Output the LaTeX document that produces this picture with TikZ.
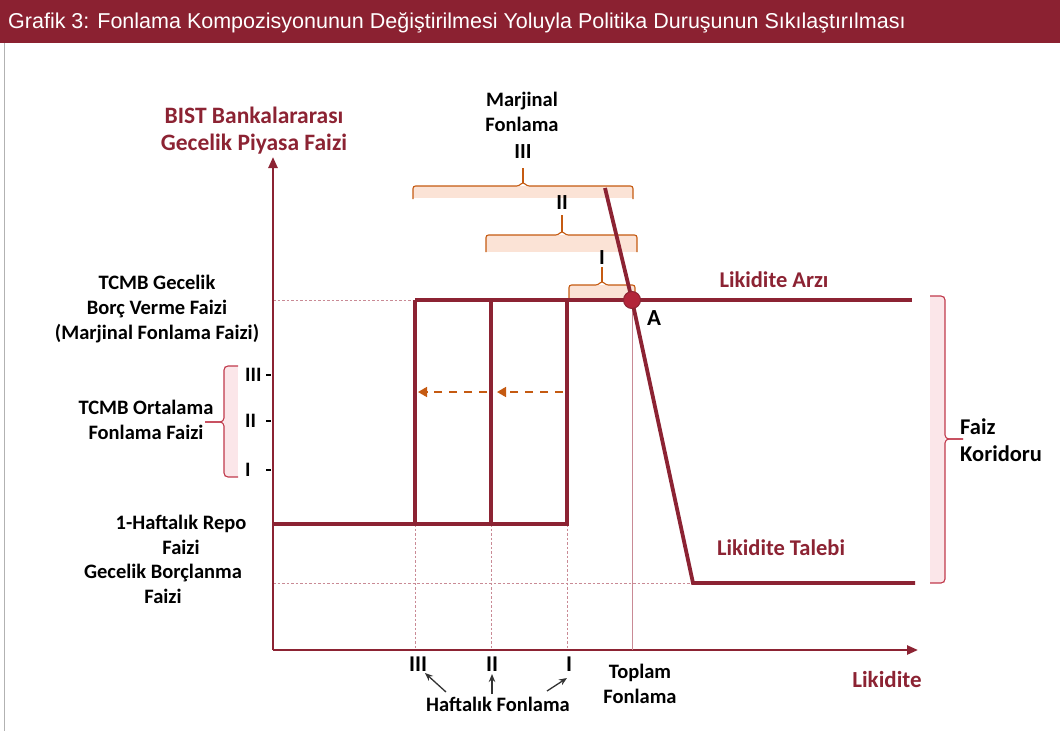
\documentclass[tikz,border=0pt]{standalone}
\usepackage{fontspec}
\setmainfont{Carlito}
\newfontfamily\titlefont{Liberation Sans}
\usetikzlibrary{arrows.meta}
\definecolor{dred}{HTML}{8B2131}
\definecolor{lred}{HTML}{8C2333}
\definecolor{ptred}{HTML}{B3253A}
\definecolor{orng}{HTML}{C55A11}
\definecolor{peach}{HTML}{FBE3D6}
\definecolor{pinkf}{HTML}{FBE6E9}
\definecolor{bracered}{HTML}{C0394B}
\definecolor{guide}{HTML}{C98A95}
\tikzset{
  lbl/.style={font=\bfseries\fontsize{20.5}{25}\selectfont, align=center, text=black, inner sep=0pt},
  biglbl/.style={lbl, font=\bfseries\fontsize{22.5}{27}\selectfont},
  rlbl/.style={biglbl, text=lred},
  axisline/.style={lred, line width=2.4pt, -{Triangle[length=11pt,width=9pt]}},
  curve/.style={lred, line width=3.8pt},
  guideline/.style={guide, line width=0.8pt, dash pattern=on 2.5pt off 2pt},
  obrace/.style={orng, line width=1.1pt, rounded corners=2.5pt},
  pbrace/.style={bracered, line width=1.1pt, rounded corners=4pt},
  shiftarrow/.style={orng, line width=1.6pt, dash pattern=on 8pt off 7pt, -{Triangle[length=9pt,width=10pt]}},
  blackarrow/.style={black!80, line width=1.3pt, -{Stealth[length=8pt,width=6.5pt]}}
}
\begin{document}
\begin{tikzpicture}[x=1pt,y=-1pt]
\useasboundingbox (0,0) rectangle (1060,731);
% title bar
\fill[dred] (0,0) rectangle (1060,43);
\node[anchor=west, text=white, font=\titlefont\fontsize{21.5}{24}\selectfont, inner sep=0pt] (title) at (8,23) {Grafik 3: Fonlama Kompozisyonunun Değiştirilmesi Yoluyla Politika Duruşunun Sıkılaştırılması};
\draw[gray!60, line width=0.8pt] (4,43) -- (4,731);

% coordinates
\coordinate (O) at (273,650);
\coordinate (ytip) at (273,157);
\coordinate (xtip) at (918,650);
\coordinate (s1) at (273,524);
\coordinate (s2) at (567,524);
\coordinate (v1t) at (415,300);
\coordinate (v1b) at (415,524);
\coordinate (v2t) at (491,300);
\coordinate (v2b) at (491,524);
\coordinate (v3t) at (567,300);
\coordinate (supend) at (912,300);
\coordinate (dtop) at (605,188);
\coordinate (dbend) at (693,583);
\coordinate (dend) at (915,583);

% guides
\draw[guideline] (273,300) -- (v1t);
\draw[guideline] (273,583) -- (dbend);
\draw[guideline] (v1b) -- (415,650);
\draw[guideline] (v2b) -- (491,650);
\draw[guideline] (s2) -- (567,650);

% top braces (fills first)
\fill[peach] (413,186) rectangle (633,198);
\fill[peach] (486,235) rectangle (637,252);
\fill[peach] (569,285) rectangle (635,300);
\draw[obrace] (413,199) -- (413,186) -- (519,186) -- (523,182) -- (527,186) -- (633,186) -- (633,199);
\draw[orng, line width=1.1pt] (523,183) -- (523,168);
\draw[obrace] (486,252) -- (486,235) -- (558,235) -- (562,231) -- (566,235) -- (637,235) -- (637,252);
\draw[orng, line width=1.1pt] (562,232) -- (562,215);
\draw[obrace] (569,300) -- (569,285) -- (598,285) -- (602,281) -- (606,285) -- (635,285) -- (635,300);
\draw[orng, line width=1.1pt] (602,282) -- (602,267);

% side braces
\fill[pinkf] (224,366) rectangle (238,477);
\draw[pbrace] (238,366) -- (224,366) -- (224,422) -- (205,422);
\draw[pbrace] (205,422) -- (224,422) -- (224,477) -- (238,477);
\fill[pinkf] (930,296) rectangle (945,583);
\draw[pbrace] (930,296) -- (945,296) -- (945,439) -- (963,439);
\draw[pbrace] (963,439) -- (945,439) -- (945,583) -- (930,583);

% axes
\draw[axisline] (O) -- (ytip);
\draw[axisline] (O) -- (xtip);
% y ticks
\draw[black, line width=1.3pt] (266,375) -- (271,375);
\draw[black, line width=1.3pt] (266,421) -- (271,421);
\draw[black, line width=1.3pt] (266,470) -- (271,470);

% supply curve
\draw[curve, line join=miter] (s1) -- (s2) -- (v3t);
\draw[curve] (v1b) -- (v1t);
\draw[curve] (v2b) -- (v2t);
\draw[curve] (v1t) -- (supend);

% demand curve
\coordinate (A) at (632,300);
\draw[guide, line width=0.9pt] (A) -- (632,650);
\draw[curve, line join=miter] (dtop) -- (A) -- (dbend) -- (dend);
\fill[ptred, draw=lred, line width=1pt] (A) circle (8.5);

% shift arrows
\coordinate (sa1s) at (563,392);
\coordinate (sa1e) at (497,392);
\coordinate (sa2s) at (487,392);
\coordinate (sa2e) at (418,392);
\draw[shiftarrow] (sa1s) -- (sa1e);
\draw[shiftarrow] (sa2s) -- (sa2e);

% labels
\node[rlbl, font=\bfseries\fontsize{23.5}{27}\selectfont] (ylab) at (254,131) {BIST Bankalararası\\Gecelik Piyasa Faizi};
\node[lbl] (mf) at (522,112) {Marjinal\\Fonlama};
\node[lbl, font=\bfseries\fontsize{21.5}{25}\selectfont] (b3) at (523,152) {III};
\node[lbl, font=\bfseries\fontsize{21.5}{25}\selectfont] (b2) at (562,203) {II};
\node[lbl, font=\bfseries\fontsize{21.5}{25}\selectfont] (b1) at (602,258) {I};
\node[lbl] (tcmbg) at (157,309) {TCMB Gecelik\\Borç Verme Faizi\\(Marjinal Fonlama Faizi)};
\node[lbl] (tcmbo) at (146,420) {TCMB Ortalama\\Fonlama Faizi};
\node[lbl, anchor=west] (y3) at (245,375) {III};
\node[lbl, anchor=west] (y2) at (245,421) {II};
\node[lbl, anchor=west] (y1) at (245,470) {I};
\node[lbl] (repo) at (181,535) {1-Haftalık Repo\\Faizi};
\node[lbl] (borc) at (163,584) {Gecelik Borçlanma\\Faizi};
\node[rlbl] (arz) at (774,280) {Likidite Arzı};
\node[rlbl] (talep) at (781,548) {Likidite Talebi};
\node[biglbl, font=\bfseries\fontsize{23}{27}\selectfont] (Alab) at (654,318) {A};
\node[biglbl, anchor=west, align=left] (faiz) at (960,440) {Faiz\\Koridoru};
\node[rlbl, font=\bfseries\fontsize{23}{27}\selectfont] (xlab) at (887,680) {Likidite};
\node[biglbl] (x3) at (418,664) {III};
\node[biglbl] (x2) at (492,664) {II};
\node[biglbl] (x1) at (569,664) {I};
\node[lbl] (topl) at (640,684) {Toplam\\Fonlama};
\node[lbl] (haft) at (498,704) {Haftalık Fonlama};
\coordinate (h3) at (446,692);
\coordinate (h2) at (492,694);
\coordinate (h1) at (547,691);
\coordinate (t3) at (425,673);
\coordinate (t2) at (492,674);
\coordinate (t1) at (567,678);
\draw[blackarrow] (h3) -- (t3);
\draw[blackarrow] (h2) -- (t2);
\draw[blackarrow] (h1) -- (t1);
\end{tikzpicture}
\end{document}
